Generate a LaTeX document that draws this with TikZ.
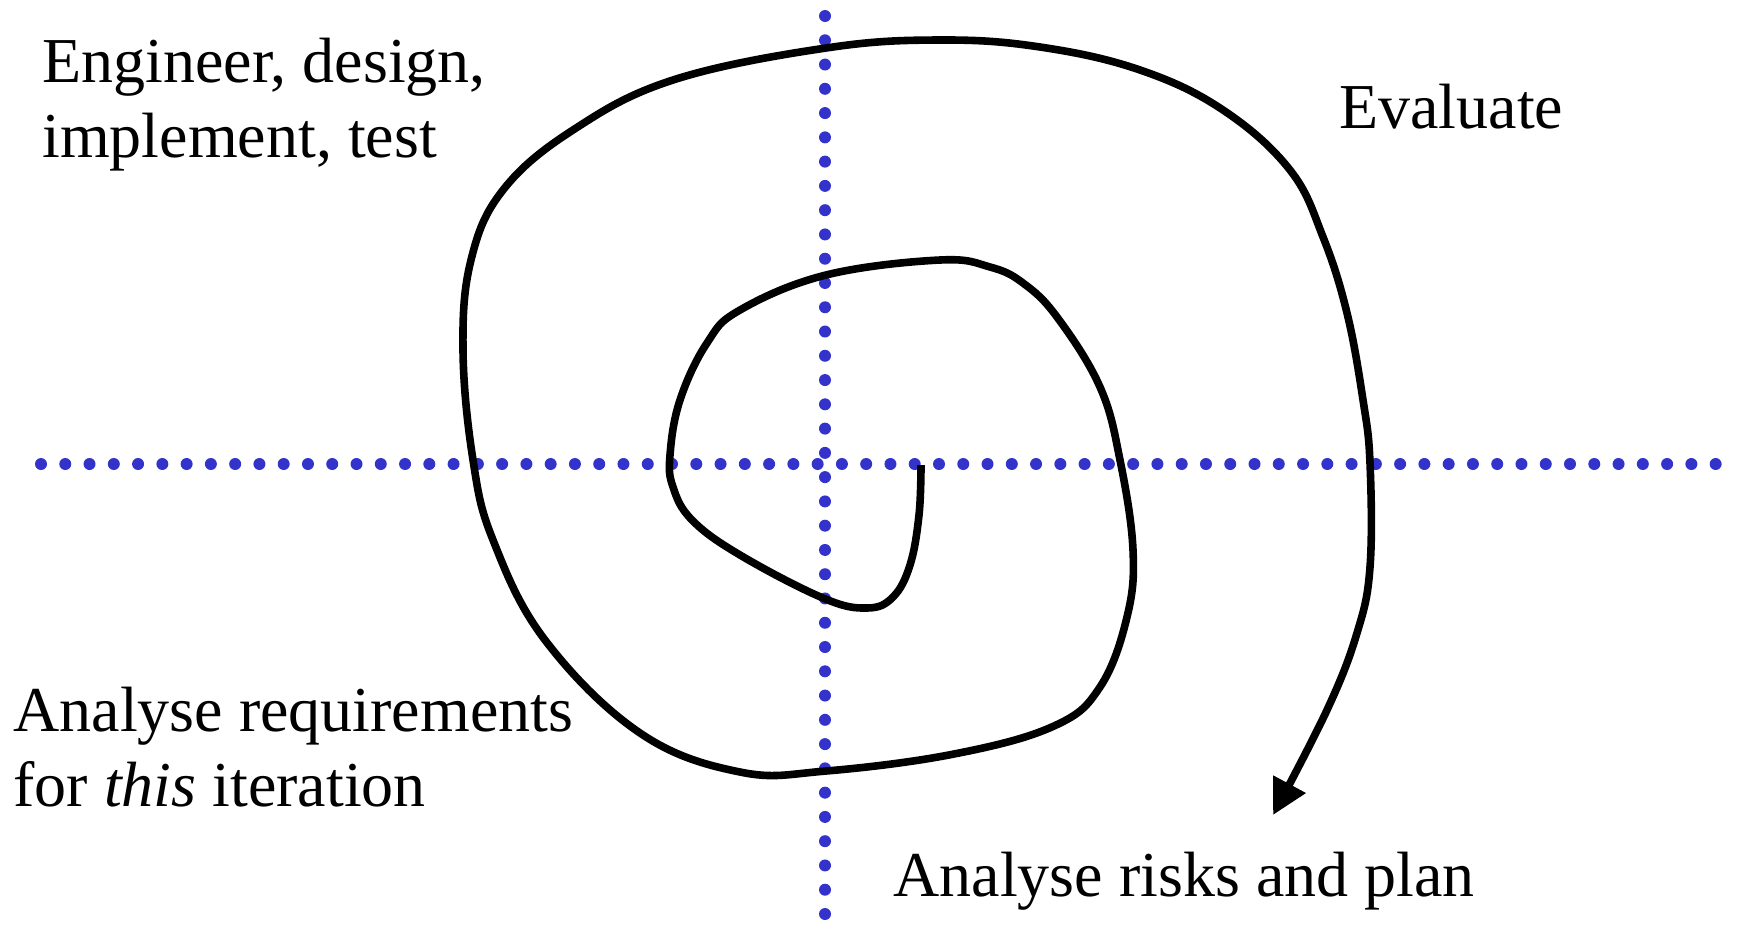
\documentclass[tikz,border=0pt]{standalone}
\usepackage{fontspec}
\setmainfont{Liberation Serif}
\usepackage{tikz}
\usetikzlibrary{arrows.meta}
\usepackage{xcolor}
\definecolor{cpoint}{RGB}{51,51,204}

\begin{document}
\begin{tikzpicture}[x=0.5pt, y=-0.5pt, >={Triangle[length=17.5pt,width=17.5pt]},
  axe/.style={cpoint, line width=6pt, line cap=round, dash pattern=on 0pt off 12.135pt},
  etiq/.style={anchor=base west, inner sep=0pt, align=left, font=\fontsize{32}{37.5}\selectfont}]
\useasboundingbox (0,0) rectangle (1739,944);
% axes en pointillés
\coordinate (hg) at (41,464);
\coordinate (hd) at (1716,464);
\coordinate (vh) at (825,16);
\coordinate (vb) at (825,938);
\draw[axe] (hg) -- (hd);
\draw[axe] (vh) -- (vb);
% spirale
\draw[line width=3.8pt, ->] plot[smooth, tension=0.65] coordinates {
  (921,465) (919,515) (910,565) (893,597) (867,608) (823,598) (740,555)
  (692,520) (673,487) (670,455) (680,400) (707,343) (740,310) (826,275)
  (940,260) (990,267) (1023,283) (1057,317) (1100,387) (1120,460)
  (1133,550) (1127,617) (1100,687) (1054,726) (954,754) (826,771)
  (740,772) (640,733) (545,640) (493,540) (473,460) (463,350) (471,260)
  (503,190) (573,130) (673,80) (826,48) (940,40) (1040,47) (1140,70)
  (1223,110) (1290,170) (1323,237) (1347,313) (1363,400) (1370,463)
  (1370,567) (1357,633) (1327,710) (1273,815)};
% étiquettes
\node[etiq] (eng) at (42,157) {Engineer, design,\\implement, test};
\node[etiq] (eval) at (1339,128) {Evaluate};
\node[etiq] (req) at (13,806) {Analyse requirements\\for \textit{this} iteration};
\node[etiq] (risk) at (893,896) {Analyse risks and plan};
\end{tikzpicture}
\end{document}
